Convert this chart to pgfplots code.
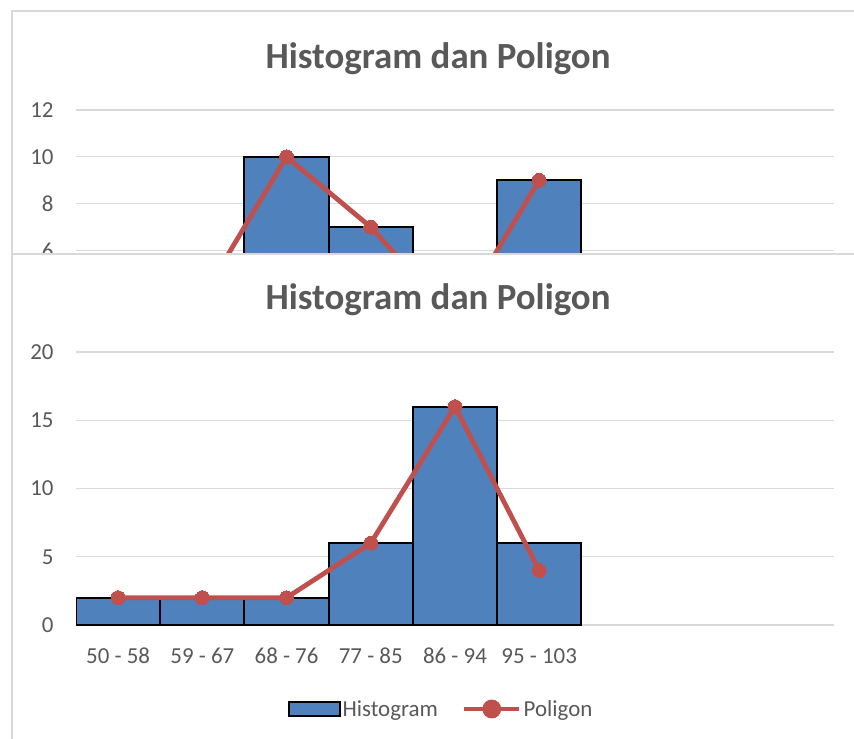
\documentclass[border=0pt]{standalone}
\usepackage{fontspec}
\setmainfont{Carlito}
\usepackage{pgfplots}
\pgfplotsset{compat=1.18}
\definecolor{barblue}{HTML}{4F81BD}
\definecolor{linered}{HTML}{C0504D}
\definecolor{txt}{HTML}{595959}
\definecolor{gridc}{HTML}{D9D9D9}
\pgfplotsset{
 common/.style={
  scale only axis, width=758bp,
  xmin=-0.5, xmax=8.5,
  axis line style={draw=none},
  major tick length=0pt,
  ymajorgrids, grid style={gridc, line width=1.3bp},
  yticklabel style={font=\fontsize{23}{27}\selectfont, text=txt, anchor=east, xshift=-19bp},
  /pgf/number format/assume math mode=true,
  title style={font=\bfseries\fontsize{37}{44}\selectfont, text=txt, anchor=base},
 },
 histo/.style={ybar, bar width=1, fill=barblue, draw=black, line width=2bp,
  legend image code/.code={\draw[fill=barblue, draw=black, line width=2bp] (0bp,-7bp) rectangle (51bp,7bp);}},
 poli/.style={linered, line width=4.8bp, mark=*, mark size=7bp,
  mark options={solid, fill=linered, draw=linered, line width=0pt},
  legend image code/.code={\draw[linered, line width=4.8bp] (0bp,0bp) -- (55bp,0bp);
   \fill[linered] (27.5bp,0bp) circle (7bp);}},
}
\begin{document}
\begin{tikzpicture}
\useasboundingbox (0,0) rectangle (854bp,-739bp);
\clip (0,0) rectangle (854bp,-739bp);
\draw[gridc, line width=1.3bp, fill=white] (12bp,-11bp) rectangle (900bp,-800bp);
\begin{axis}[common, height=281bp, at={(76bp,-110bp)}, anchor=north west,
  ymin=0, ymax=12, ytick={6,8,10,12}, xtick=\empty,
  title={Histogram dan Poligon}, title style={at={(0.4776,1.128)}}]
\addplot[histo] coordinates {(0,2) (1,4) (2,10) (3,7) (4,3) (5,9)};
\addplot[poli] coordinates {(0,2) (1,4) (2,10) (3,7) (4,3) (5,9)};
\end{axis}
\draw[gridc, line width=1.3bp, fill=white] (12bp,-254bp) rectangle (900bp,-800bp);
\begin{axis}[common, height=273bp, at={(76bp,-352bp)}, anchor=north west,
  ymin=0, ymax=20, ytick={0,5,...,20},
  xtick={0,...,5}, xticklabels={50 - 58, 59 - 67, 68 - 76, 77 - 85, 86 - 94, 95 - 103},
  xticklabel style={font=\fontsize{23}{27}\selectfont, text=txt, anchor=base, yshift=-38bp},
  title={Histogram dan Poligon}, title style={at={(0.4776,1.1355)}},
  legend style={draw=none, fill=none, at={(0.4815,-0.3077)}, anchor=center,
    legend columns=2, font=\fontsize{23}{27}\selectfont, text=txt,
    /tikz/every even column/.append style={column sep=22bp},
    legend cell align=left}]
\addplot[histo] coordinates {(0,2) (1,2) (2,2) (3,6) (4,16) (5,6)};
\addlegendentry{Histogram}
\addplot[poli] coordinates {(0,2) (1,2) (2,2) (3,6) (4,16) (5,4)};
\addlegendentry{Poligon}
\end{axis}
\end{tikzpicture}
\end{document}
